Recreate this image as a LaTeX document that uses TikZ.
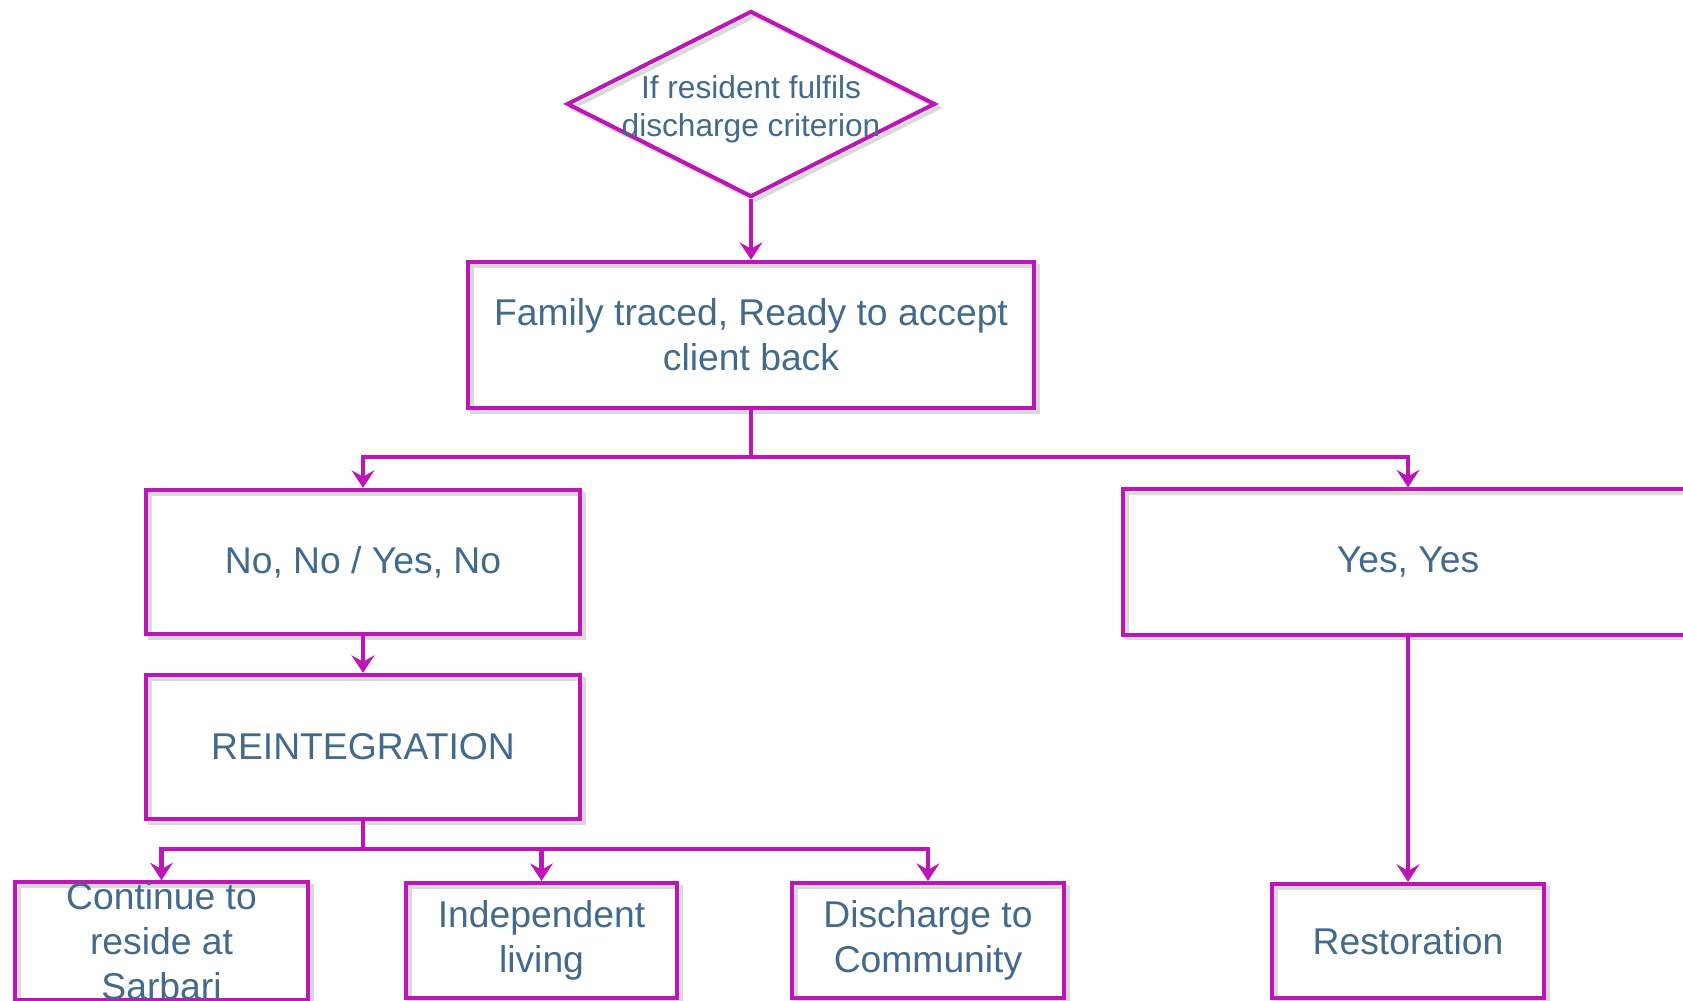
\documentclass[tikz,border=0pt]{standalone}
\usepackage{fontspec}
\setmainfont{Liberation Sans}
\usetikzlibrary{shapes.geometric}
\usetikzlibrary{shadows}
\usetikzlibrary{positioning}
\usetikzlibrary{arrows.meta}
\definecolor{flowline}{RGB}{190,22,182}
\definecolor{flowtext}{RGB}{66,106,140}

\begin{document}
\begin{tikzpicture}[x=0.01cm, y=-0.01cm,
        outline/.style={draw=flowline, line width=1.15pt, inner sep=0pt, drop shadow={shadow xshift=1.1pt, shadow yshift=-1.1pt, fill=none, draw=black!15, opacity=1, line width=1.15pt}},
        box/.style={rectangle, outline, text=flowtext, align=center, font=\fontsize{10.6}{12.8}\selectfont},
        decision/.style={diamond, outline, minimum width=3.68cm, minimum height=1.86cm},
        flow/.style={draw=flowline, line width=1.15pt, -{Stealth[length=5pt, width=6.5pt, inset=1.8pt]}},
        joinline/.style={draw=flowline, line width=1.15pt}
      ]
        \useasboundingbox (0,0) rectangle (1683,1001);
        \clip (0,0) rectangle (1683,1001);

        \node[decision]  (crit)    at (751,104)
            [label={[text=flowtext, align=center, font=\fontsize{9}{10.8}\selectfont, yshift=-1.5pt]center:If resident fulfils\\discharge criterion}] {};
        \node[box, minimum width=5.65cm, minimum height=1.46cm]  (family)  at (751,335)     {Family traced, Ready to accept\\client back};
        \node[box, minimum width=4.34cm, minimum height=1.44cm]  (nono)    at (363,562)     {No, No / Yes, No};
        \node[box, minimum width=5.70cm, minimum height=1.45cm]  (yesyes)  at (1408,562)    {Yes, Yes};
        \node[box, minimum width=4.34cm, minimum height=1.44cm]  (reint)   at (363,747)     {REINTEGRATION};
        \node[box, minimum width=2.93cm, minimum height=1.16cm]  (cont)    at (161.5,941)   {Continue to\\reside at\\Sarbari};
        \node[box, minimum width=2.71cm, minimum height=1.15cm]  (indep)   at (541.5,940.5) {Independent\\living};
        \node[box, minimum width=2.72cm, minimum height=1.15cm]  (disch)   at (928,940.5)   {Discharge to\\Community};
        \node[box, minimum width=2.71cm, minimum height=1.14cm]  (resto)   at (1408,941)    {Restoration};

        \coordinate (split)  at (751,457);
        \coordinate (split2) at (363,849);

        \draw[flow]  (crit.south) -- (family.north);
        \draw[joinline]  (family.south) -- (split);
        \draw[flow]  (split) -| (nono.north);
        \draw[flow]  (split) -| (yesyes.north);
        \draw[flow]  (nono.south) -- (reint.north);
        \draw[flow]  (yesyes.south) -- (resto.north);

        \draw[joinline]  (reint.south) -- (split2);
        \draw[flow]  (split2) -| (cont.north);
        \draw[flow]  (split2) -| (indep.north);
        \draw[flow]  (split2) -| (disch.north);
      \end{tikzpicture}
\end{document}
